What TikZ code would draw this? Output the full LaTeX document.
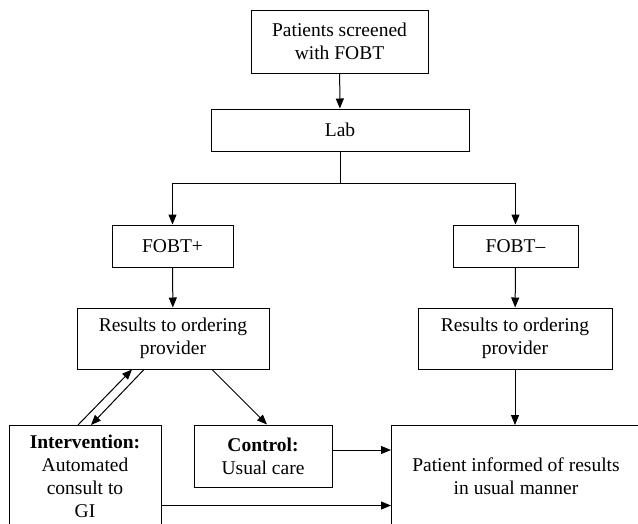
\documentclass[tikz,border=0pt]{standalone}
\usepackage{fontspec}
\setmainfont{Liberation Serif}
\usetikzlibrary{arrows.meta,calc}
\begin{document}
\begin{tikzpicture}[x=1pt,y=-1pt,
  box/.style={draw, line width=1pt, inner sep=0pt, align=center, font=\fontsize{19.5}{23}\selectfont},
  txt/.style={inner sep=0pt, align=center, font=\fontsize{19.5}{23}\selectfont},
  arr/.style={line width=1pt, -{Triangle[length=10pt,width=8pt]}},
  ln/.style={line width=1pt}]
\useasboundingbox (0,0) rectangle (638,523);
\clip (0,0) rectangle (638,523);
\node[box, minimum width=177, minimum height=63] (scr) at (339.5,41.5) {Patients screened\\with FOBT};
\node[box, minimum width=258, minimum height=42] (lab) at (340,130) {Lab};
\node[box, minimum width=121, minimum height=42] (fp) at (172.5,246) {FOBT+};
\node[box, minimum width=125, minimum height=42] (fm) at (515.5,246) {FOBT–};
\node[box, minimum width=192, minimum height=61] (resL) at (173,338.5) {Results to ordering\\provider};
\node[box, minimum width=194, minimum height=61] (resR) at (515,338.5) {Results to ordering\\provider};
\node[box, minimum width=152, minimum height=101, anchor=north] (int) at (85,425) {\textbf{Intervention:}\\Automated\\consult to\\GI};
\node[box, minimum width=138, minimum height=62] (ctl) at (263,456) {\textbf{Control:}\\Usual care};
\node[box, minimum width=300, minimum height=150, anchor=north west] (pat) at (391,425) {};
\node[txt] (pattext) at (516,476) {Patient informed of results\\in usual manner};

\draw[arr] (scr) -- (lab);
\coordinate (split) at (340,183);
\draw[ln] (lab.south) -- (split);
\draw[arr] (split) -| (fp.north);
\draw[arr] (split) -| (fm.north);
\draw[arr] (fp) -- (resL);
\draw[arr] (fm) -- (resR);
\draw[arr] ([xshift=39pt]resL.south) -- ([xshift=4pt]ctl.north);
\draw[arr] ([xshift=-7pt]int.north) -- ([xshift=-41pt]resL.south);
\draw[arr] ([xshift=-29pt]resL.south) -- ([xshift=6pt]int.north);
\draw[arr] ([yshift=6pt]ctl.east) coordinate (c1) -- (c1 -| pat.west);
\draw[arr] ([yshift=-29.5pt]int.east) coordinate (c2) -- (c2 -| pat.west);
\draw[arr] (resR.south) -- (resR.south |- pat.north);
\end{tikzpicture}
\end{document}
